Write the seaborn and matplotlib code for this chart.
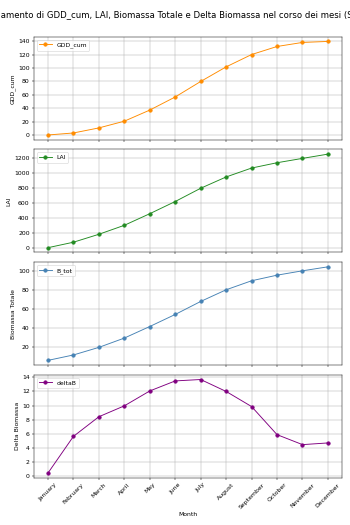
import matplotlib
matplotlib.use("Agg")
import matplotlib.pyplot as plt
import seaborn as sns
import pandas as pd

months = ["January", "February", "March", "April", "May", "June", "July",
          "August", "September", "October", "November", "December"]
gdd_cum = [0.5, 3.5, 11.0, 21.0, 37.5, 57.0, 80.0, 101.7, 120.0, 132.0, 138.0, 139.5]
lai = [2, 75, 181, 301, 456, 619, 796, 947, 1066, 1137, 1195, 1252]
b_tot = [6.3, 12.0, 20.0, 29.8, 42.0, 54.7, 68.4, 80.7, 90.2, 96.1, 100.7, 104.9]
delta_b = [0.38, 5.6, 8.4, 9.95, 12.07, 13.5, 13.7, 12.0, 9.85, 5.85, 4.43, 4.67]

df = pd.DataFrame({
    "Month": months,
    "GDD_cum": gdd_cum,
    "LAI": lai,
    "B_tot": b_tot,
    "deltaB": delta_b,
})

panels = [
    ("GDD_cum", "darkorange", "GDD_cum"),
    ("LAI", "forestgreen", "LAI"),
    ("B_tot", "steelblue", "Biomassa Totale"),
    ("deltaB", "purple", "Delta Biomassa"),
]

fig, axes = plt.subplots(4, 1, figsize=(8, 12), sharex=True)
for ax, (col, color, ylabel) in zip(axes, panels):
    sns.lineplot(data=df, x="Month", y=col, marker="o", color=color,
                 markeredgecolor=color, label=col, ax=ax)
    ax.set_ylabel(ylabel)
    ax.grid(True)
    ax.legend(loc="upper left")

axes[-1].set_xlabel("Month")
plt.setp(axes[-1].get_xticklabels(), rotation=45)
fig.suptitle("Andamento di GDD_cum, LAI, Biomassa Totale e Delta Biomassa "
             "nel corso dei mesi (Sim)", fontsize=14, y=0.98)
fig.subplots_adjust(left=0.097, right=0.977, top=0.93, bottom=0.09, hspace=0.095)
fig.savefig("out.png", dpi=350 / 8)
